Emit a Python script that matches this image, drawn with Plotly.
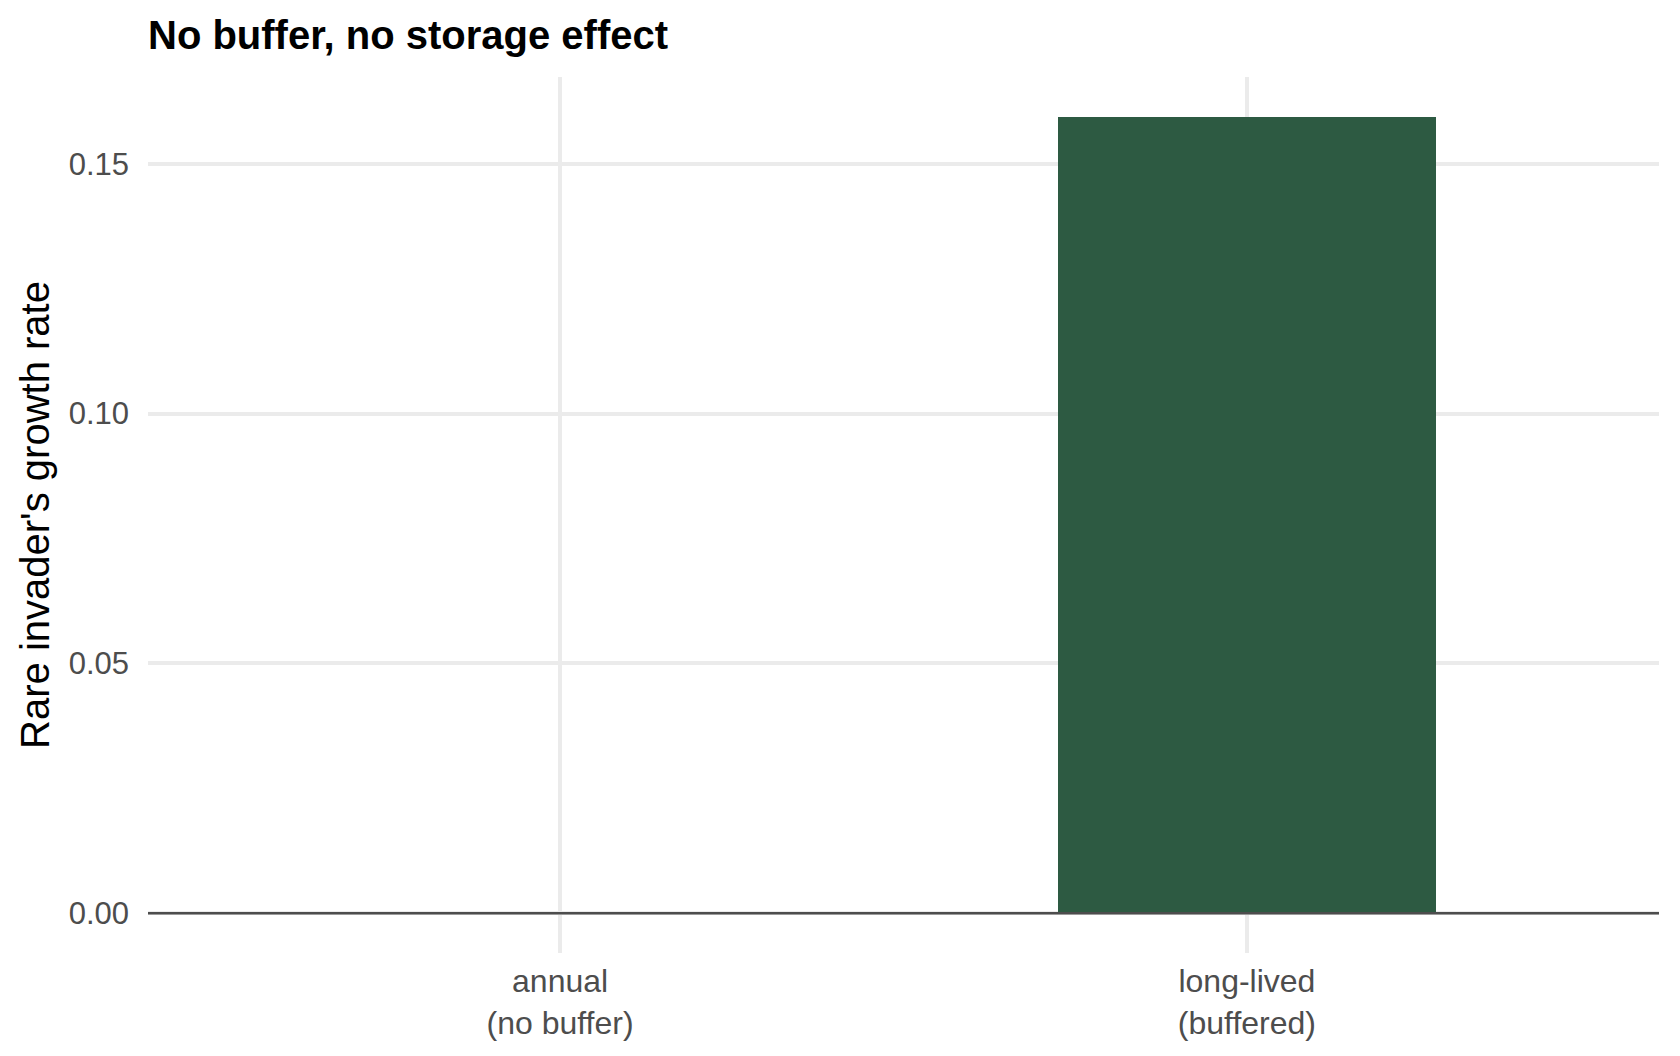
import plotly.graph_objects as go

categories = ["annual<br>(no buffer)", "long-lived<br>(buffered)"]
growth_rate = [0.0, 0.1594]
y_ticks = [0.0, 0.05, 0.10, 0.15]
y_tick_labels = ["0.00", "0.05", "0.10", "0.15"]

FONT = "Liberation Sans, Arial, sans-serif"

fig = go.Figure()
fig.add_trace(go.Bar(
    x=categories, y=growth_rate, width=0.55,
    marker=dict(color="#2D5A42", line=dict(width=0)),
    showlegend=False,
))

ymax = max(growth_rate)
pad = 0.05 * (ymax - min(growth_rate))

fig.add_hline(y=0, line=dict(color="#4D4D4D", width=2.5), layer="above")

fig.update_layout(
    width=1680, height=1056,
    margin=dict(l=148, r=21, t=77, b=103),
    paper_bgcolor="white", plot_bgcolor="white",
    font=dict(family=FONT, color="black"),
    title=dict(text="<b>No buffer, no storage effect</b>", x=148/1680, xanchor="left",
               xref="container", y=1-35/1056, yanchor="middle", yref="container",
               font=dict(size=40, color="black", family=FONT)),
    bargap=0,
)
fig.update_xaxes(
    type="category", range=[-0.6, 1.6],
    showgrid=True, gridcolor="#EBEBEB", gridwidth=3.5,
    showline=False, zeroline=False, ticks="",
    tickfont=dict(size=32, color="#4D4D4D", family=FONT),
    ticklabelstandoff=6,
)
fig.update_yaxes(
    range=[min(growth_rate) - pad, ymax + pad],
    tickvals=y_ticks, ticktext=y_tick_labels,
    showgrid=True, gridcolor="#EBEBEB", gridwidth=3.5,
    showline=False, zeroline=False, ticks="",
    tickfont=dict(size=31, color="#4D4D4D", family=FONT),
    ticklabelstandoff=18,
    title=dict(text="Rare invader's growth rate", font=dict(size=40, color="black", family=FONT), standoff=6),
)

fig.write_html("out.html")
